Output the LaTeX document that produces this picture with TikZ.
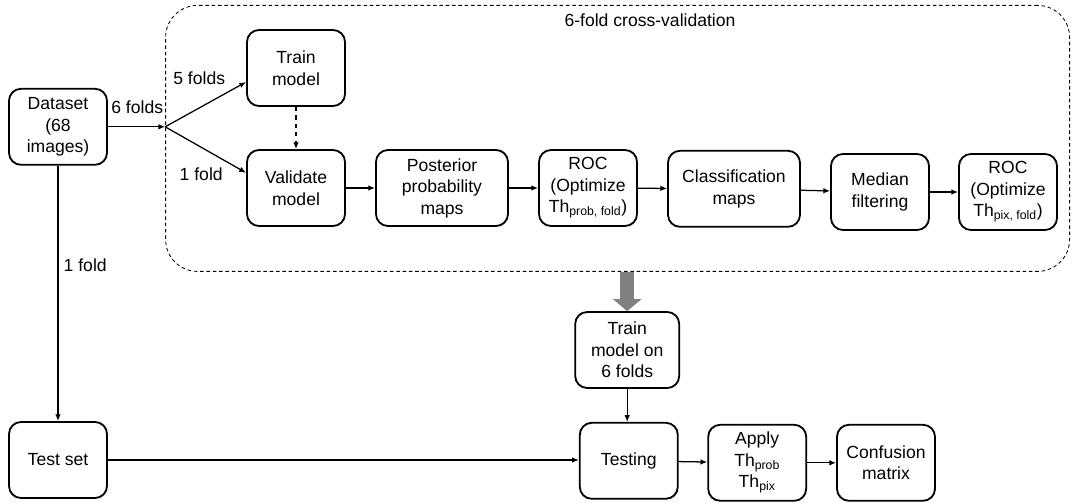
\documentclass[tikz,border=0pt]{standalone}
\usepackage{fontspec}
\setmainfont{Liberation Sans}
\usetikzlibrary{positioning,arrows.meta}
\definecolor{shaft}{HTML}{808080}

\tikzset{
  box/.style={draw, line width=1.3pt, rounded corners=0.3cm, align=center,
    minimum width=2.45cm, minimum height=1.9cm, inner sep=1pt},
  widebox/.style={box, minimum width=3.3cm},
  flow/.style={-{Latex[length=1.7mm,width=1.4mm]}, line width=0.9pt},
  cvbox/.style={draw, dash pattern=on 2.5pt off 2pt, line width=0.6pt,
    rounded corners=0.8cm, minimum width=22.6cm, minimum height=6.65cm},
}

\begin{document}
\begin{tikzpicture}[font=\fontsize{12.5}{15.3}\selectfont]
    \useasboundingbox (0,0) rectangle (26.875,12.55);
    % cross-validation frame
    \node[cvbox] (cv) at (15.44,9.09) {};
    \node (cvtitle) at (16.25,12.05) {6-fold cross-validation};
    % inner loop
    \node[box] (data) at (1.45,9.38) {Dataset\\(68\\images)};
    \node[box] (train) at (7.4,10.85) {Train\\model};
    \node[box] (valid) at (7.4,7.85) {Validate\\model};
    \node[widebox] (post) at (11.05,7.85) {Posterior\\probability\\maps};
    \node[box] (rocprob) at (14.7,7.85) {ROC\\(Optimize\\Th\textsubscript{prob, fold})};
    \node[widebox] (classmap) at (18.35,7.83) {Classification\\maps};
    \node[box] (median) at (22.0,7.75) {Median\\filtering};
    \node[box] (rocpix) at (25.2,7.75) {ROC\\(Optimize\\Th\textsubscript{pix, fold})};
    % final model and test
    \node[box, minimum width=2.6cm] (trainall) at (15.68,3.8) {Train\\model on\\6 folds};
    \node[box] (testset) at (1.45,1.05) {Test set};
    \node[box] (testing) at (15.72,1.03) {Testing};
    \node[box] (apply) at (18.93,0.98) {Apply\\Th\textsubscript{prob}\\Th\textsubscript{pix}};
    \node[box] (confusion) at (22.15,0.98) {Confusion\\matrix};
    % split
    \coordinate (split) at (cv.west |- data.east);
    \draw[flow] (data.east) -- (split);
    \draw[flow] (split) -- ([yshift=-0.35cm]train.west);
    \draw[flow] (split) -- ([yshift=0.38cm]valid.west);
    \node (six) at (3.43,9.88) {6 folds};
    \node (five) at (4.98,10.6) {5 folds};
    \node (onev) at (5.03,8.2) {1 fold};
    \draw[flow, dashed] (train.south) -- (valid.north);
    \draw[flow] (valid) -- (post);
    \draw[flow] (post) -- (rocprob);
    \draw[flow] (rocprob) -- (classmap);
    \draw[flow] (classmap) -- (median);
    \draw[flow] (median) -- (rocpix);
    % test branch
    \draw[flow] (data.south) -- (testset.north);
    \node (onet) at (2.13,5.93) {1 fold};
    \draw[flow] (testset.east) -- (testset.east -| testing.west);
    \draw[shaft, line width=0.36cm, -{Triangle[length=0.3cm,width=0.7cm]}]
      (cv.south -| trainall.north) -- (trainall.north);
    \draw[flow] (trainall.south) -- (trainall.south |- testing.north);
    \draw[flow] (testing) -- (apply);
    \draw[flow] (apply) -- (confusion);
\end{tikzpicture}
\end{document}
